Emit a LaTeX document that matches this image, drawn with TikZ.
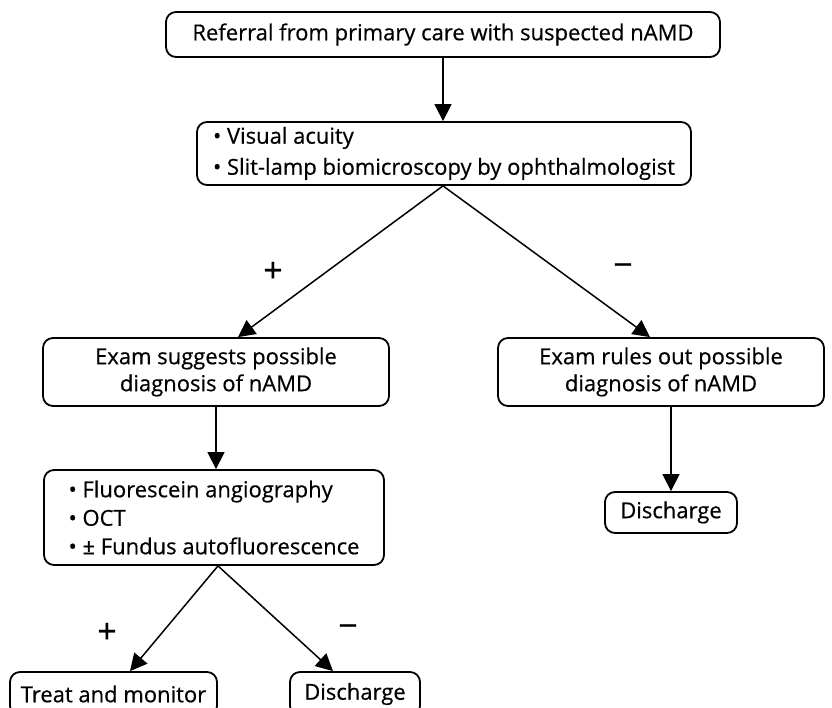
\documentclass[tikz,border=0pt]{standalone}
\usepackage{fontspec}
\setmainfont{Open Sans}[FakeBold=0.5]
\usetikzlibrary{arrows.meta,calc}
\begin{document}
\begin{tikzpicture}[x=1pt,y=-1pt,
  box/.style={draw,line width=1.8pt,rounded corners=10pt,inner sep=0pt,
    font=\fontsize{22}{28}\selectfont},
  arr/.style={line width=1.5pt,-{Triangle[length=17pt,width=17pt]}},
  sign/.style={font=\fontsize{34}{34}\selectfont}]
\useasboundingbox (0,0) rectangle (832,708);

\node[box,minimum width=554pt,minimum height=45pt] (ref) at (443,34.5)
  {Referral from primary care with suspected nAMD};
\node[box,minimum width=494pt,minimum height=63pt,align=left,
  font=\fontsize{22}{31}\selectfont] (exam) at (444,153.5)
  {• Visual acuity\\• Slit-lamp biomicroscopy by ophthalmologist};
\node[box,minimum width=346pt,minimum height=68pt,align=center,
  font=\fontsize{22}{27}\selectfont] (pos) at (216,372)
  {Exam suggests possible\\diagnosis of nAMD};
\node[box,minimum width=326pt,minimum height=68pt,align=center,
  font=\fontsize{22}{27}\selectfont] (neg) at (661,372)
  {Exam rules out possible\\diagnosis of nAMD};
\node[box,minimum width=340pt,minimum height=95pt,align=left,
  font=\fontsize{22}{28.5}\selectfont] (tests) at (214,517.5)
  {• Fluorescein angiography\\• OCT\\• ± Fundus autofluorescence};
\node[box,minimum width=132pt,minimum height=41pt] (dis1) at (671,512.5) {Discharge};
\node[box,minimum width=207pt,minimum height=44pt] (treat) at (113.5,694) {Treat and monitor};
\node[box,minimum width=130pt,minimum height=44pt] (dis2) at (355,694) {Discharge};

% connectors
\draw[arr] (ref.south) -- (ref.south |- exam.north);
\coordinate (fork1) at (ref.south |- exam.south);
\draw[arr] (fork1) -- ([xshift=22pt]pos.north);
\draw[arr] (fork1) -- ([xshift=-11pt]neg.north);
\draw[arr] (pos.south) -- (pos.south |- tests.north);
\draw[arr] (dis1.north |- neg.south) -- (dis1.north);
\coordinate (fork2) at ([xshift=4pt]tests.south);
\draw[arr] (fork2) -- ([xshift=16.5pt]treat.north);
\draw[arr] (fork2) -- ([xshift=-22pt]dis2.north);

% branch signs
\node[sign] (p1) at (273,272) {+};
\node[sign] (m1) at (623,270) {−};
\node[sign] (p2) at (107,633) {+};
\node[sign] (m2) at (348,631) {−};
\end{tikzpicture}
\end{document}
